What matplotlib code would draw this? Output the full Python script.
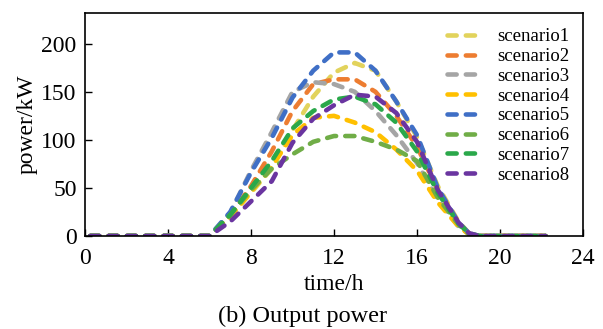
import matplotlib
matplotlib.use("Agg")
import matplotlib.pyplot as plt

hours = [0.25, 1, 2, 3, 4, 5, 6, 7, 8, 9, 10, 11, 12, 13, 14, 15, 16, 17, 18, 18.5, 19, 20, 21, 22.2]
zeros_am = [0, 0, 0, 0, 0, 0, 0]
zeros_pm = [0, 0, 0, 0]

scenario1 = zeros_am + [20, 45, 70, 110, 145, 170, 180, 172, 140, 103, 52, 15, 3] + zeros_pm
scenario2 = zeros_am + [22, 52, 88, 130, 158, 163, 163, 150, 125, 93, 48, 14, 3] + zeros_pm
scenario3 = zeros_am + [24, 68, 108, 150, 160, 158, 150, 130, 105, 76, 38, 10, 2] + zeros_pm
scenario4 = zeros_am + [20, 46, 72, 105, 123, 125, 118, 108, 90, 68, 35, 10, 2] + zeros_pm
scenario5 = zeros_am + [25, 66, 102, 144, 172, 191, 191, 172, 140, 105, 50, 14, 3] + zeros_pm
scenario6 = zeros_am + [22, 48, 70, 85, 98, 104, 104, 98, 90, 78, 40, 12, 2] + zeros_pm
scenario7 = zeros_am + [22, 50, 78, 112, 130, 142, 145, 137, 118, 88, 45, 13, 3] + zeros_pm
scenario8 = zeros_am + [15, 36, 57, 97, 122, 136, 147, 145, 128, 98, 48, 14, 3] + zeros_pm

series = [scenario1, scenario2, scenario3, scenario4, scenario5, scenario6, scenario7, scenario8]
labels = ["scenario1", "scenario2", "scenario3", "scenario4",
          "scenario5", "scenario6", "scenario7", "scenario8"]
colors = ["#e2d35c", "#ed7d31", "#a5a5a5", "#ffc000",
          "#3f6fc6", "#70ad47", "#2aa84a", "#6a35a0"]

xticks = [0, 4, 8, 12, 16, 20, 24]
yticks = [0, 50, 100, 150, 200]

plt.rcParams['font.family'] = ['Liberation Serif', 'DejaVu Serif']

fig = plt.figure(figsize=(6.03, 3.29), dpi=100)
ax = fig.add_axes([85/603, 1-236/329, (583-85)/603, (236-13)/329])

for y, lab, c in zip(series, labels, colors):
    ax.plot(hours, y, color=c, lw=3.3, linestyle=(0, (2.0, 2.0)),
            dash_capstyle='round', solid_capstyle='round', label=lab)

ax.set_xlim(0, 24)
ax.set_ylim(0, 232)
ax.set_xticks(xticks)
ax.set_yticks(yticks)
ax.tick_params(direction='in', length=5, width=1, labelsize=17)
ax.tick_params(axis='x', pad=9)
ax.tick_params(axis='y', pad=6)
for s in ax.spines.values():
    s.set_linewidth(1.2)
ax.set_xlabel("time/h", fontsize=17, labelpad=3)
ax.set_ylabel("power/kW", fontsize=17, labelpad=3)

leg = ax.legend(loc='upper right', bbox_to_anchor=(0.995, 0.982), frameon=False,
                fontsize=13.5, handlelength=1.6, handletextpad=1.1,
                labelspacing=0.14, borderaxespad=0.2)

fig.text(303/603, 1-322/329, "(b) Output power", ha='center', va='baseline', fontsize=17.5)

fig.savefig("out.png", dpi=100)
